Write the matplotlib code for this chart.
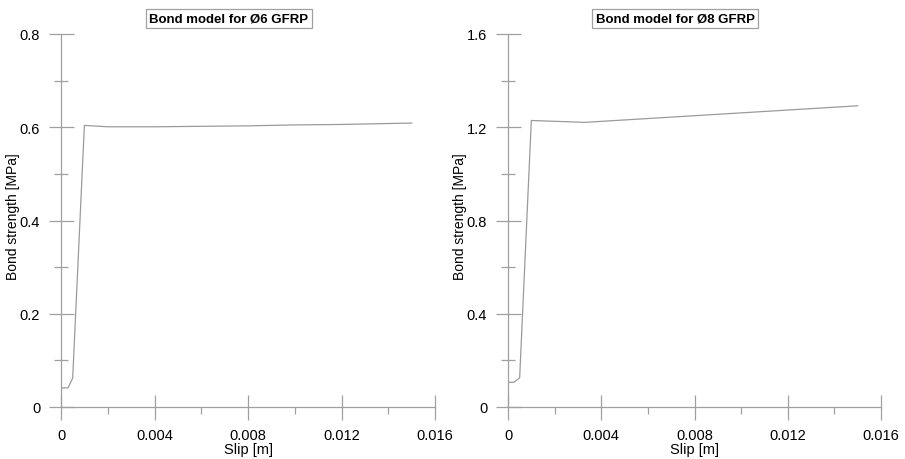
import matplotlib
matplotlib.use("Agg")
import matplotlib.pyplot as plt
from matplotlib.ticker import MultipleLocator

plt.rcParams['font.family'] = ['Liberation Sans', 'DejaVu Sans']

# Data
slip6 = [0.0, 0.0003, 0.0005, 0.001, 0.002, 0.004, 0.006, 0.008, 0.010, 0.012, 0.015]
bond6 = [0.041, 0.041, 0.062, 0.604, 0.601, 0.601, 0.602, 0.603, 0.605, 0.606, 0.609]

slip8 = [0.0, 0.00025, 0.0005, 0.001, 0.0033, 0.015]
bond8 = [0.106, 0.106, 0.125, 1.229, 1.221, 1.292]

titles = ["Bond model for Ø6 GFRP", "Bond model for Ø8 GFRP"]
xlabel = "Slip [m]"
ylabel = "Bond strength [MPa]"
xticks = [0, 0.004, 0.008, 0.012, 0.016]
xticklabels = ["0", "0.004", "0.008", "0.012", "0.016"]
yticks6 = [0, 0.2, 0.4, 0.6, 0.8]
yticks8 = [0, 0.4, 0.8, 1.2, 1.6]

W, H = 905, 460
fig = plt.figure(figsize=(W / 100, H / 100), dpi=100)

axcol = "#a0a0a0"
linecol = "#9a9a9a"

panels = [
    dict(x0=61, x1=435, slip=slip6, bond=bond6, yt=yticks6, ymax=0.8, title=titles[0], tx=229, ylx=13),
    dict(x0=508, x1=881, slip=slip8, bond=bond8, yt=yticks8, ymax=1.6, title=titles[1], tx=675, ylx=460),
]

for p in panels:
    y0, y1 = 408, 35
    wpx = p['x1'] - p['x0']
    hpx = y0 - y1
    ax = fig.add_axes([p['x0'] / W, 1 - y0 / H, wpx / W, hpx / H])
    ax.plot(p['slip'], p['bond'], color=linecol, lw=0.9)
    ax.set_xlim(0, 0.016)
    ax.set_ylim(0, p['ymax'])
    for s in ['top', 'right']:
        ax.spines[s].set_visible(False)
    for s in ['left', 'bottom']:
        ax.spines[s].set_color(axcol)
        ax.spines[s].set_linewidth(0.9)
    ax.set_xticks(xticks)
    ax.set_xticklabels(xticklabels)
    ax.set_yticks(p['yt'])
    ax.set_yticklabels(["0"] + [f"{v:.1f}" for v in p['yt'][1:]])
    ax.xaxis.set_minor_locator(MultipleLocator(0.002))
    ax.yaxis.set_minor_locator(MultipleLocator(p['ymax'] / 8))
    ax.tick_params(which='major', direction='inout', length=18, width=0.9, color=axcol,
                   labelsize=10.5, labelcolor='black', pad=6)
    ax.tick_params(axis='y', which='minor', direction='inout', length=9.5, width=0.9, color=axcol)
    ax.tick_params(axis='x', which='minor', direction='out', length=5, width=0.9, color=axcol)
    ax.set_xlabel(xlabel, fontsize=10.5)
    ax.set_ylabel(ylabel, fontsize=10)
    ax.xaxis.set_label_coords(0.5, (y0 - 450) / hpx)
    ax.yaxis.set_label_coords((p['ylx'] - p['x0']) / wpx, (y0 - 217) / hpx)
    ax.xaxis.label.set_va('center')
    ax.yaxis.label.set_va('center')
    for sp in ax.spines.values():
        sp.set_clip_on(False)
    fig.text(p['tx'] / W, 1 - 19.5 / H, p['title'], ha='center', va='center',
             fontsize=9.5, fontweight='bold',
             bbox=dict(boxstyle='square,pad=0.25', fc='white', ec=axcol, lw=0.9))

fig.savefig("out.png", dpi=100)
